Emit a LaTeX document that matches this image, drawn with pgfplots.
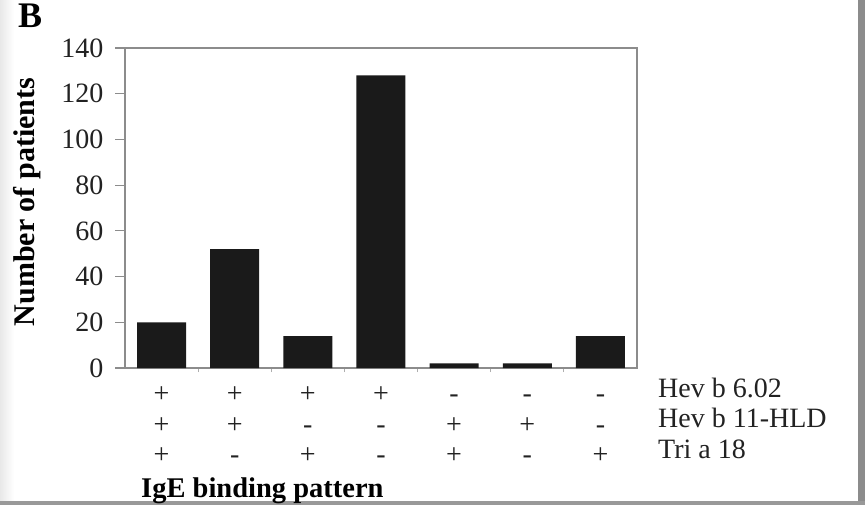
\documentclass[border=0pt]{standalone}
\usepackage{fontspec}
\setmainfont{Liberation Serif}
\usepackage{pgfplots}
\pgfplotsset{compat=1.18}
\definecolor{framegray}{HTML}{8C8C8C}
\definecolor{barblack}{HTML}{1A1A1A}
\definecolor{txt}{HTML}{222222}
\begin{document}
\begin{tikzpicture}[x=1pt,y=1pt]
\fill[white] (0,0) rectangle (865,-505);
\fill[left color=black!9, right color=white] (0,0) rectangle (14,-505);
\fill[black!45] (858,0) rectangle (865,-505);
\fill[black!40] (0,-501) rectangle (865,-505);
\path[use as bounding box] (0,0) rectangle (865,-505);
\begin{axis}[
  at={(125pt,-368pt)}, anchor=south west,
  scale only axis, width=512pt, height=320pt,
  xmin=-0.5, xmax=6.5, ymin=0, ymax=140,
  ytick={0,20,...,140},
  yticklabels={0,20,40,60,80,100,120,140},
  xtick={0,...,6},
  xticklabels={{\strut+\\\strut+\\\strut+},{\strut+\\\strut+\\\strut-},{\strut+\\\strut-\\\strut+},{\strut+\\\strut-\\\strut-},{\strut-\\\strut+\\\strut+},{\strut-\\\strut+\\\strut-},{\strut-\\\strut-\\\strut+}},
  minor xtick={0.5,1.5,...,5.5},
  tick align=outside,
  xtick pos=bottom, ytick pos=left,
  major tick length=10pt, minor tick length=4pt,
  major x tick style={draw=none},
  minor x tick style={framegray!70, line width=0.8pt},
  y tick style={framegray, line width=1.2pt},
  axis line style={framegray, line width=1.6pt},
  yticklabel style={font=\fontsize{28}{30}\selectfont\rmfamily, text=txt, anchor=east, xshift=-8pt},
  xticklabel style={align=center, font=\fontsize{28}{30.5}\selectfont, text=txt, anchor=north, yshift=0pt},
]
\addplot[ybar, bar width=49pt, fill=barblack, draw=none]
  coordinates {(0,20) (1,52) (2,14) (3,128) (4,2) (5,2) (6,14)};
\end{axis}
\node[font=\fontsize{36}{36}\selectfont\bfseries, anchor=base west, inner sep=0pt] at (18,-28) {B};
\node[font=\fontsize{30}{30}\selectfont\bfseries, rotate=90, inner sep=0pt] at (27,-202) {Number of patients};
\node[font=\fontsize{28.5}{30}\selectfont\bfseries, anchor=base west, inner sep=0pt] at (141,-497) {IgE binding pattern};
\node[font=\fontsize{28}{30}\selectfont, text=txt, anchor=base west, inner sep=0pt] at (658,-397) {Hev b 6.02};
\node[font=\fontsize{28}{30}\selectfont, text=txt, anchor=base west, inner sep=0pt] at (658,-427) {Hev b 11-HLD};
\node[font=\fontsize{28}{30}\selectfont, text=txt, anchor=base west, inner sep=0pt] at (658,-458) {Tri a 18};
\end{tikzpicture}
\end{document}
